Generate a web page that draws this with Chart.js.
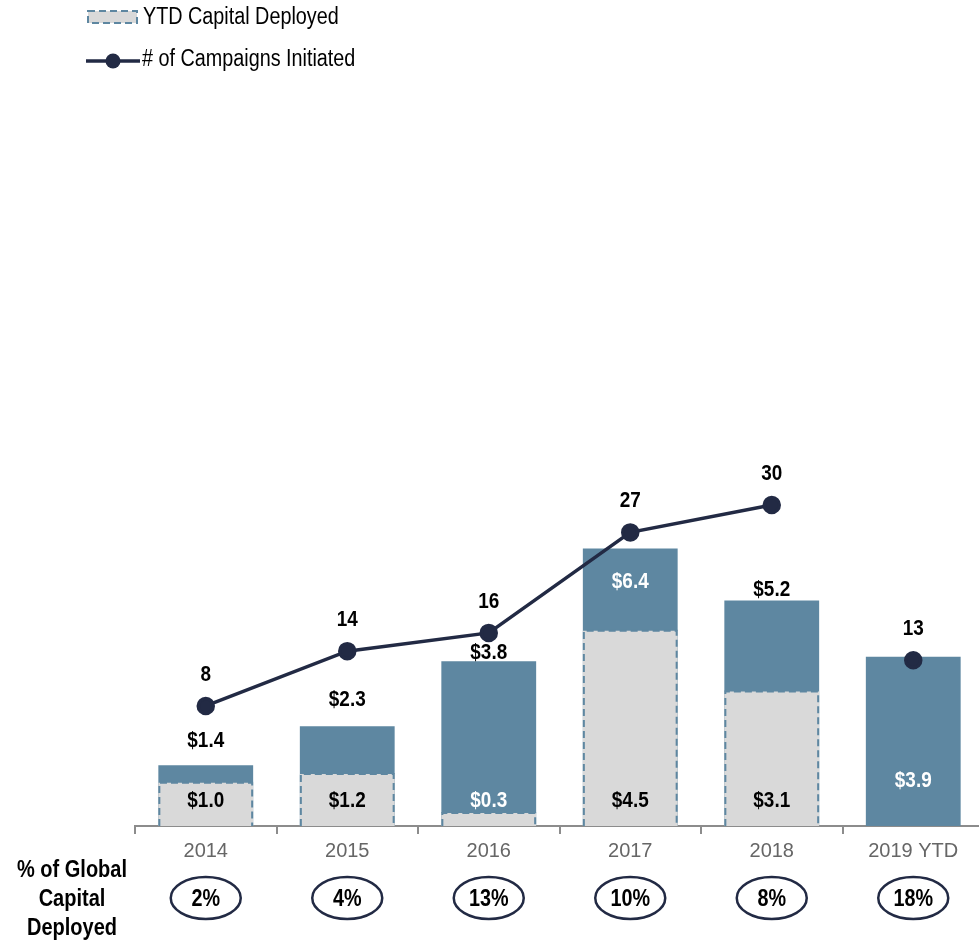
<!DOCTYPE html>
<html>
<head>
<meta charset="utf-8">
<script src="https://cdn.jsdelivr.net/npm/chart.js@4.4.1/dist/chart.umd.min.js"></script>
<style>
  html, body { margin: 0; padding: 0; background: #fff; overflow: hidden; }
  canvas { display: block; }
</style>
</head>
<body>
<canvas id="capChart" width="984" height="940"></canvas>
<script>
// campaign data by year
const years = ["2014", "2015", "2016", "2017", "2018", "2019 YTD"];
const totalCapital = [1.4, 2.3, 3.8, 6.4, 5.2, 3.9];
const ytdCapital = [1.0, 1.2, 0.3, 4.5, 3.1, null];
const campaigns = [8, 14, 16, 27, 30, 13];
const globalShare = ["2%", "4%", "13%", "10%", "8%", "18%"];

// where the total label sits relative to the bar top (negative = above)
const totalLabelShift = [-24, -26, -8, 34, -11, null];

const BLUE = "#5e87a1";
const GRAY = "#d9d9d9";
const NAVY = "#222a44";
const AXIS = "#8c8c8c";
const FONT = "'Liberation Sans', Arial, sans-serif";

function money(v) {
  return "$" + v.toFixed(1);
}

// draws text squeezed horizontally so it reads like a narrow face
function text(ctx, str, x, y, size, color, bold, squeeze, align) {
  ctx.save();
  ctx.translate(x, y);
  ctx.scale(squeeze || 0.86, 1);
  ctx.font = (bold ? "bold " : "") + size + "px " + FONT;
  ctx.fillStyle = color;
  ctx.textAlign = align || "center";
  ctx.textBaseline = "middle";
  ctx.fillText(str, 0, 0);
  ctx.restore();
}

const dashedBorders = {
  id: "dashedBorders",
  afterDatasetDraw(chart, args) {
    if (args.index !== 1) return;
    const ctx = chart.ctx;
    ctx.save();
    ctx.strokeStyle = BLUE;
    ctx.lineWidth = 2;
    ctx.setLineDash([7, 4]);
    args.meta.data.forEach((bar, i) => {
      if (ytdCapital[i] == null) return;
      const p = bar.getProps(["x", "y", "base", "width"], true);
      const l = p.x - p.width / 2 + 1;
      const r = p.x + p.width / 2 - 1;
      ctx.beginPath();
      ctx.moveTo(l, p.base);
      ctx.lineTo(l, p.y);
      ctx.lineTo(r, p.y);
      ctx.lineTo(r, p.base);
      ctx.stroke();
    });
    ctx.restore();
  },
};

const annotations = {
  id: "annotations",
  afterDraw(chart) {
    const ctx = chart.ctx;
    const totals = chart.getDatasetMeta(0).data;
    const ytds = chart.getDatasetMeta(1).data;
    const points = chart.getDatasetMeta(2).data;
    const base = chart.scales.y.getPixelForValue(0);

    // value labels on the bars
    totals.forEach((bar, i) => {
      const shift = totalLabelShift[i];
      if (shift == null) {
        text(ctx, money(totalCapital[i]), bar.x, base - 45, 22, "#fff", true);
      } else {
        text(ctx, money(totalCapital[i]), bar.x, bar.y + shift, 22, shift > 0 ? "#fff" : "#000", true);
      }
    });
    ytds.forEach((bar, i) => {
      if (ytdCapital[i] == null) return;
      const inGray = ytdCapital[i] >= 0.8;
      text(ctx, money(ytdCapital[i]), bar.x, base - 25, 22, inGray ? "#000" : "#fff", true);
    });

    // campaign counts
    points.forEach((pt, i) => {
      text(ctx, String(campaigns[i]), pt.x, pt.y - 31, 22, "#000", true);
    });

    // share of global capital row
    ctx.save();
    ctx.strokeStyle = NAVY;
    ctx.lineWidth = 2.5;
    totals.forEach((bar, i) => {
      ctx.beginPath();
      ctx.ellipse(bar.x, 898, 35, 21, 0, 0, Math.PI * 2);
      ctx.stroke();
      text(ctx, globalShare[i], bar.x, 900, 23, "#000", true);
    });
    ctx.restore();
    ["% of Global", "Capital", "Deployed"].forEach((line, i) => {
      text(ctx, line, 72, 871 + i * 29, 23, "#000", true, 0.87);
    });

    // legend
    ctx.save();
    ctx.fillStyle = GRAY;
    ctx.fillRect(88, 11, 49, 12);
    ctx.strokeStyle = BLUE;
    ctx.lineWidth = 2;
    ctx.setLineDash([7, 4]);
    ctx.strokeRect(88, 11, 49, 12);
    ctx.setLineDash([]);
    ctx.strokeStyle = NAVY;
    ctx.lineWidth = 3.5;
    ctx.beginPath();
    ctx.moveTo(86, 61);
    ctx.lineTo(140, 61);
    ctx.stroke();
    ctx.fillStyle = NAVY;
    ctx.beginPath();
    ctx.arc(113, 61, 7.5, 0, Math.PI * 2);
    ctx.fill();
    ctx.restore();
    text(ctx, "YTD Capital Deployed", 143, 18, 23, "#000", false, 0.86, "left");
    text(ctx, "# of Campaigns Initiated", 142, 60, 23, "#000", false, 0.86, "left");
  },
};

new Chart(document.getElementById("capChart"), {
  data: {
    labels: years,
    datasets: [
      {
        type: "bar",
        label: "Total Capital Deployed",
        data: totalCapital,
        backgroundColor: BLUE,
        grouped: false,
        order: 2,
        barPercentage: 0.67,
        categoryPercentage: 1,
        yAxisID: "y",
      },
      {
        type: "bar",
        label: "YTD Capital Deployed",
        data: ytdCapital,
        backgroundColor: GRAY,
        grouped: false,
        order: 1,
        barPercentage: 0.67,
        categoryPercentage: 1,
        yAxisID: "y",
      },
      {
        type: "line",
        label: "# of Campaigns Initiated",
        data: campaigns,
        borderColor: NAVY,
        backgroundColor: NAVY,
        borderWidth: 3.5,
        pointRadius: 7.5,
        pointHoverRadius: 7.5,
        tension: 0,
        order: 0,
        yAxisID: "y2",
        // the year-to-date point stands on its own
        segment: {
          borderColor: (c) => (c.p1DataIndex === years.length - 1 ? "transparent" : NAVY),
        },
      },
    ],
  },
  options: {
    responsive: false,
    animation: false,
    layout: { autoPadding: false, padding: { top: 132, left: 135, right: 0, bottom: 0 } },
    plugins: {
      legend: { display: false },
      tooltip: { enabled: false },
    },
    scales: {
      x: {
        offset: true,
        grid: {
          offset: true,
          drawOnChartArea: false,
          drawTicks: true,
          tickLength: 8,
          color: AXIS,
          lineWidth: 2,
        },
        border: { display: true, color: AXIS, width: 2 },
        ticks: { color: "#666", font: { family: FONT, size: 20 }, padding: 5 },
        afterFit: (scale) => {
          scale.height = 114;
        },
      },
      y: { display: false, min: 0, max: 16 },
      y2: { display: false, min: -5.14, max: 70.83 },
    },
  },
  plugins: [dashedBorders, annotations],
});
</script>
</body>
</html>
